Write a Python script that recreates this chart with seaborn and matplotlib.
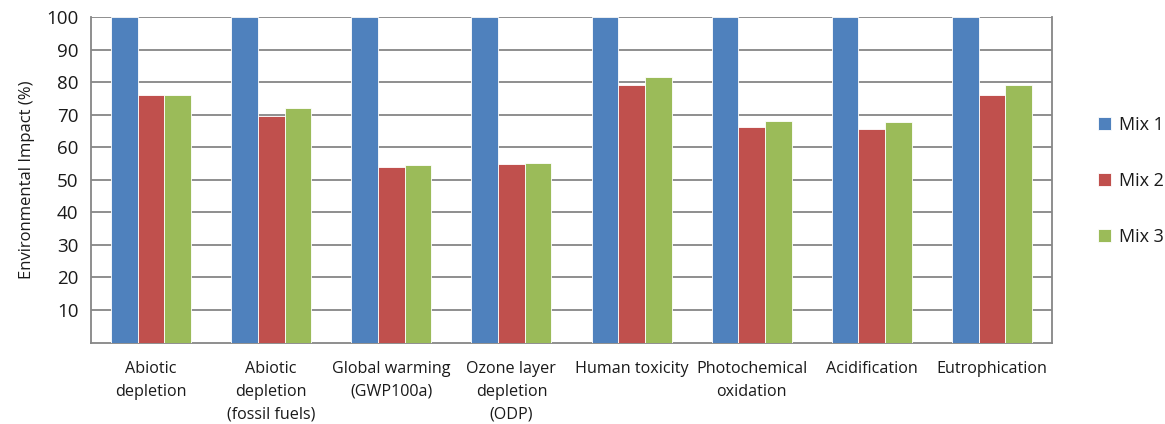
import matplotlib
matplotlib.use("Agg")
import matplotlib.pyplot as plt
import seaborn as sns
import pandas as pd
from matplotlib.ticker import FixedLocator

categories = ["Abiotic\ndepletion", "Abiotic\ndepletion\n(fossil fuels)", "Global warming\n(GWP100a)",
              "Ozone layer\ndepletion\n(ODP)", "Human toxicity", "Photochemical\noxidation",
              "Acidification", "Eutrophication"]
series_names = ["Mix 1", "Mix 2", "Mix 3"]
mix1 = [100, 100, 100, 100, 100, 100, 100, 100]
mix2 = [76.0, 69.5, 53.9, 54.7, 79.2, 66.1, 65.7, 76.0]
mix3 = [76.0, 71.9, 54.4, 55.0, 81.6, 68.0, 67.7, 79.2]
y_ticks = [10, 20, 30, 40, 50, 60, 70, 80, 90, 100]
colors = ["#4F81BD", "#C0504D", "#9BBB59"]

rows = []
for name, vals in zip(series_names, [mix1, mix2, mix3]):
    for c, v in zip(categories, vals):
        rows.append({"Category": c, "Series": name, "Value": v})
df = pd.DataFrame(rows)

sns.set_style("white")
plt.rcParams["font.family"] = ["Open Sans", "DejaVu Sans"]

fig = plt.figure(figsize=(11.65, 4.24), dpi=100)
ax = fig.add_axes([91 / 1165, 1 - 342.5 / 424, (1052 - 91) / 1165, (342.5 - 17) / 424])

sns.barplot(data=df, x="Category", y="Value", hue="Series", order=categories,
            hue_order=series_names, palette=colors, width=0.667, saturation=1,
            edgecolor="white", linewidth=0.6, ax=ax, zorder=3)

ax.set_ylim(0, 100)
ax.set_xlim(-0.5, len(categories) - 0.5)
ax.yaxis.set_major_locator(FixedLocator(y_ticks))
ax.set_yticklabels([str(t) for t in y_ticks], fontsize=13.5, color="#1a1a1a")
ax.grid(axis="y", color="#868686", linewidth=1.3, zorder=0)
ax.set_axisbelow(True)

ax.set_xticks(range(len(categories)))
ax.set_xticklabels(categories, fontsize=11.6, linespacing=1.6, va="top", color="#1a1a1a")
ax.tick_params(axis="x", which="major", length=0, pad=13)
ax.set_xticks([i - 0.5 for i in range(len(categories) + 1)], minor=True)
ax.tick_params(axis="x", which="minor", length=5, width=1.3, color="#868686", direction="out")
ax.tick_params(axis="y", which="major", length=6, width=1.3, color="#868686", direction="out", pad=3)

for s in ["left", "right", "bottom", "top"]:
    ax.spines[s].set_color("#868686")
    ax.spines[s].set_linewidth(1.3)
ax.spines["top"].set_visible(False)

ax.set_xlabel("")
ax.set_ylabel("Environmental Impact (%)", fontsize=12, labelpad=8, color="#1a1a1a")

handles, labels = ax.get_legend_handles_labels()
ax.legend_.remove()
fig.legend(handles, labels, loc="center left", bbox_to_anchor=(1082 / 1165, 1 - 181 / 424),
           frameon=False, fontsize=13, handlelength=0.7, handleheight=0.7,
           handletextpad=0.45, labelspacing=2.1, labelcolor="#1a1a1a")

fig.savefig("out.png", dpi=100)
